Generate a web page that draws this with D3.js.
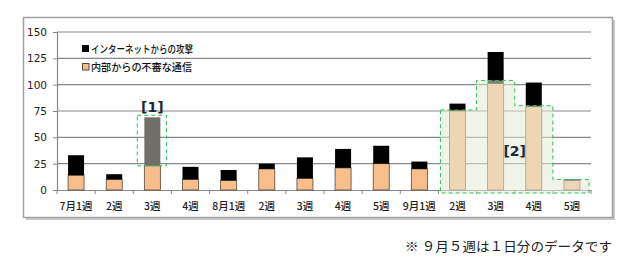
<!DOCTYPE html>
<html><head><meta charset="utf-8">
<script src="https://cdn.jsdelivr.net/npm/d3@7"></script>
<style>html,body{margin:0;padding:0;background:#fff;}svg{display:block;}</style>
</head><body>
<svg id="c" width="640" height="262"></svg>
<script>
const categories = ["7月1週","2週","3週","4週","8月1週","2週","3週","4週","5週","9月1週","2週","3週","4週","5週"];
const internal = [14,10,23,10,9,20,11,21,25,20,75,101,79,9];
const internet = [19,5,46,12,10,5,20,18,17,7,7,30,23,1];
const seriesNames = ["インターネットからの攻撃","内部からの不審な通信"];
const yTicks = [0,25,50,75,100,125,150];
const highlight1Index = 2;
const highlight2Indices = [10,11,12,13];
const highlight2Tops = [76,104,80,10];
const note = "※ ９月５週は１日分のデータです";

const svg = d3.select("#c");
const jp = "'Noto Sans CJK JP','Noto Sans',sans-serif";
const L = 57, R = 591, T = 32, B = 190;

// frame with shadow
svg.append("rect").attr("x",26).attr("y",20).attr("width",589).attr("height",200).attr("fill","#c8c8c8");
svg.append("rect").attr("x",23.5).attr("y",17.5).attr("width",589).attr("height",200)
  .attr("fill","#fff").attr("stroke","#a0a0a0").attr("stroke-width",1.5);

const x = d3.scaleBand().domain(d3.range(categories.length)).range([L,R]);
const y = d3.scaleLinear().domain([0,150]).range([B,T]);
const bw = x.bandwidth()*0.42;

// gridlines
svg.append("g").selectAll("line").data(yTicks.filter(d=>d>0)).join("line")
  .attr("x1",L).attr("x2",R).attr("y1",d=>y(d)).attr("y2",d=>y(d))
  .attr("stroke","#888").attr("stroke-width",1.2);

// y axis
const ya = svg.append("g").attr("transform",`translate(${L},0)`)
  .call(d3.axisLeft(y).tickValues(yTicks).tickSize(4).tickPadding(6));
ya.select(".domain").attr("stroke","#888").attr("stroke-width",1.2);
ya.selectAll(".tick line").attr("stroke","#888");
ya.selectAll("text").attr("font-family","'DejaVu Sans',sans-serif").attr("font-size",10.5).attr("fill","#222");

// x axis
const xa = svg.append("g").attr("transform",`translate(0,${B})`)
  .call(d3.axisBottom(x).tickFormat(i=>categories[i]).tickSize(0).tickPadding(13));
xa.select(".domain").attr("stroke","#888").attr("stroke-width",1.2);
xa.selectAll("text").attr("font-family",jp).attr("font-size",10.5).attr("font-weight",500).attr("fill","#222");
svg.append("g").selectAll("line").data(d3.range(categories.length+1)).join("line")
  .attr("x1",i=>i<categories.length?x(i):R).attr("x2",i=>i<categories.length?x(i):R)
  .attr("y1",B).attr("y2",B+4).attr("stroke","#888");

// bars
const cx = i => x(i)+x.bandwidth()/2;
const bars = svg.append("g");
bars.selectAll("rect.int").data(internal).join("rect").attr("class","int")
  .attr("x",(d,i)=>cx(i)-bw/2).attr("width",bw)
  .attr("y",d=>y(d)).attr("height",d=>y(0)-y(d))
  .attr("fill","#f7bd8a").attr("stroke","#5a4a3a").attr("stroke-width",0.8);
bars.selectAll("rect.net").data(internet).join("rect").attr("class","net")
  .attr("x",(d,i)=>cx(i)-bw/2).attr("width",bw)
  .attr("y",(d,i)=>y(internal[i]+d)).attr("height",(d,i)=>y(internal[i])-y(internal[i]+d))
  .attr("fill",(d,i)=>i===highlight1Index?"#6f6f67":"#000");

// highlight 2 region (stepped)
const pts = [];
highlight2Indices.forEach((idx,k)=>{
  const x0 = k===0 ? x(idx)+2 : x(idx);
  const x1 = k===highlight2Indices.length-1 ? x(idx)+x.bandwidth()-2 : x(idx)+x.bandwidth();
  pts.push([x0,y(highlight2Tops[k])]);
  pts.push([x1,y(highlight2Tops[k])]);
});
pts.push([pts[pts.length-1][0],B+3]);
pts.push([pts[0][0],B+3]);
svg.append("path").attr("d",d3.line()(pts)+"Z")
  .attr("fill","rgba(228,235,213,0.55)").attr("stroke","#2fbf5a").attr("stroke-width",1)
  .attr("stroke-dasharray","4,3");

// highlight 1 box
const h1 = highlight1Index;
svg.append("rect").attr("x",x(h1)+4).attr("width",x.bandwidth()-9)
  .attr("y",y(internal[h1]+internet[h1])-2)
  .attr("height",y(internal[h1])-y(internal[h1]+internet[h1])+2)
  .attr("fill","none").attr("stroke","#2fbf5a").attr("stroke-width",1).attr("stroke-dasharray","4,3");

svg.append("text").attr("x",cx(h1)).attr("y",y(internal[h1]+internet[h1])-5)
  .attr("text-anchor","middle").attr("font-family","'DejaVu Sans',sans-serif").attr("font-weight","bold")
  .attr("font-size",14).attr("fill","#1c2a3a").text("[1]");
svg.append("text").attr("x",x(12)).attr("y",156)
  .attr("text-anchor","middle").attr("font-family","'DejaVu Sans',sans-serif").attr("font-weight","bold")
  .attr("font-size",14).attr("fill","#1c2a3a").text("[2]");

// legend
const leg = svg.append("g");
leg.append("rect").attr("x",82).attr("y",45).attr("width",7).attr("height",7).attr("fill","#000");
leg.append("rect").attr("x",82.5).attr("y",63.5).attr("width",6.5).attr("height",6.5).attr("fill","#f7bd8a").attr("stroke","#5a4a3a").attr("stroke-width",1);
leg.append("text").attr("x",91).attr("y",52.5).attr("font-family",jp).attr("font-size",10.5).attr("font-weight",500).attr("fill","#111")
  .attr("textLength",102).attr("lengthAdjust","spacingAndGlyphs").text(seriesNames[0]);
leg.append("text").attr("x",91).attr("y",71).attr("font-family",jp).attr("font-size",10.5).attr("font-weight",500).attr("fill","#111")
  .attr("textLength",101).attr("lengthAdjust","spacingAndGlyphs").text(seriesNames[1]);

// footnote
svg.append("text").attr("x",405).attr("y",251).attr("font-family",jp).attr("font-size",13).attr("fill","#222")
  .attr("textLength",207).attr("lengthAdjust","spacingAndGlyphs").text(note);
</script>
</body></html>
